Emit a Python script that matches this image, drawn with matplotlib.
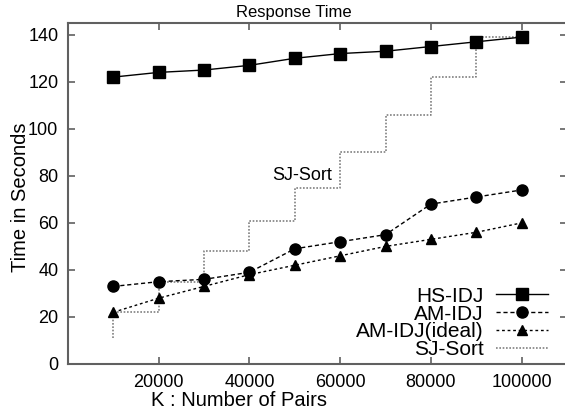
import matplotlib
matplotlib.use("Agg")
import matplotlib.pyplot as plt

plt.rcParams['font.family'] = ['Liberation Sans', 'DejaVu Sans']

# data
pairs = [10000, 20000, 30000, 40000, 50000, 60000, 70000, 80000, 90000, 100000]
hs_idj = [122, 124, 125, 127, 130, 132, 133, 135, 137, 139]
am_idj = [33, 35, 36, 39, 49, 52, 55, 68, 71, 74]
am_idj_ideal = [22, 28, 33, 38, 42, 46, 50, 53, 56, 60]
sj_sort = [11, 22, 35, 48, 61, 75, 90, 106, 122, 139]

W, H = 565, 413
fig = plt.figure(figsize=(W / 100, H / 100), dpi=100)
ax = fig.add_axes([68 / W, (H - 364) / H, (567 - 68) / W, (364 - 23) / H])

axcol = '#606060'

# SJ-Sort drawn as fsteps-like staircase
ax.plot(pairs, sj_sort, drawstyle='steps-pre', color='#808080',
        linestyle=(0, (1, 1)), linewidth=1.2, label='SJ-Sort', zorder=2)
ax.plot(pairs, hs_idj, color='black', linewidth=1.0, marker='s',
        markersize=8.5, label='HS-IDJ', zorder=4)
ax.plot(pairs, am_idj, color='black', linewidth=1.0, linestyle=(0, (3, 2)),
        marker='o', markersize=8, label='AM-IDJ', zorder=4)
ax.plot(pairs, am_idj_ideal, color='black', linewidth=1.0, linestyle=(0, (2, 2)),
        marker='^', markersize=7, label='AM-IDJ(ideal)', zorder=4)

ax.text(45000, 80, 'SJ-Sort', fontsize=13, ha='left', va='center')

ax.set_xlim(0, 110000)
ax.set_ylim(0, 145)
ax.set_xticks([20000, 40000, 60000, 80000, 100000])
ax.set_yticks(range(0, 141, 20))
ax.tick_params(direction='in', length=5, width=1.2, color=axcol,
               labelsize=13, pad=7, top=True, right=True)
for s in ax.spines.values():
    s.set_color(axcol)
    s.set_linewidth(1.5)

fig.text(239 / W, 1 - 401 / H, 'K : Number of Pairs', fontsize=14.5,
         ha='center', va='center')
fig.text(21 / W, 1 - 197 / H, 'Time in Seconds', fontsize=14.5,
         ha='center', va='center', rotation=90)
fig.text(294 / W, 1 - 13 / H, 'Response Time', fontsize=12,
         ha='center', va='center')

handles, labels = ax.get_legend_handles_labels()
order = [1, 2, 3, 0]
leg = ax.legend([handles[i] for i in order], [labels[i] for i in order],
                loc='lower right', bbox_to_anchor=(548 / W, 1 - 359 / H),
                bbox_transform=fig.transFigure, frameon=False,
                markerfirst=False, fontsize=15, handlelength=2.5,
                labelspacing=-0.06, handletextpad=0.6, borderaxespad=0,
                borderpad=0)

fig.savefig('out.png', dpi=100)
